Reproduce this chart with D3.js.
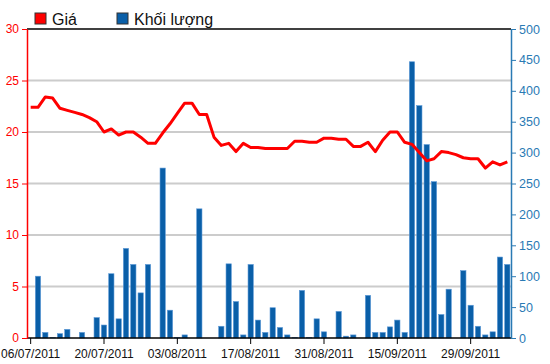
<!DOCTYPE html>
<html>
<head>
<meta charset="utf-8">
<script src="https://cdn.jsdelivr.net/npm/d3@7"></script>
<style>
  body { margin: 0; background: #fff; }
  svg { display: block; font-family: "Liberation Sans", Arial, sans-serif; }
</style>
</head>
<body>
<div id="chart"></div>
<script>
// trading days, 06/07/2011 - 06/10/2011
const dates = [
  "06/07/2011","07/07/2011","08/07/2011","11/07/2011","12/07/2011","13/07/2011","14/07/2011","15/07/2011",
  "18/07/2011","19/07/2011","20/07/2011","21/07/2011","22/07/2011","25/07/2011","26/07/2011","27/07/2011",
  "28/07/2011","29/07/2011","01/08/2011","02/08/2011","03/08/2011","04/08/2011","05/08/2011","08/08/2011",
  "09/08/2011","10/08/2011","11/08/2011","12/08/2011","15/08/2011","16/08/2011","17/08/2011","18/08/2011",
  "19/08/2011","22/08/2011","23/08/2011","24/08/2011","25/08/2011","26/08/2011","29/08/2011","30/08/2011",
  "31/08/2011","01/09/2011","05/09/2011","06/09/2011","07/09/2011","08/09/2011","09/09/2011","12/09/2011",
  "13/09/2011","14/09/2011","15/09/2011","16/09/2011","19/09/2011","20/09/2011","21/09/2011","22/09/2011",
  "23/09/2011","26/09/2011","27/09/2011","28/09/2011","29/09/2011","30/09/2011","03/10/2011","04/10/2011",
  "05/10/2011","06/10/2011"
];

const price = [
  22.4, 22.4, 23.4, 23.3, 22.3, 22.1, 21.9, 21.7, 21.4, 21.0,
  20.0, 20.3, 19.7, 20.0, 20.0, 19.5, 18.9, 18.9, 19.9, 20.8,
  21.8, 22.8, 22.8, 21.7, 21.7, 19.5, 18.7, 18.9, 18.1, 18.9,
  18.5, 18.5, 18.4, 18.4, 18.4, 18.4, 19.1, 19.1, 19.0, 19.0,
  19.4, 19.4, 19.3, 19.3, 18.6, 18.6, 19.0, 18.1, 19.2, 20.0,
  20.0, 19.0, 18.8, 18.0, 17.2, 17.4, 18.1, 18.0, 17.8, 17.5,
  17.4, 17.4, 16.5, 17.1, 16.8, 17.1
];

const volume = [
  0, 100, 9, 1, 7, 14, 0, 9, 0, 33,
  21, 104, 31, 145, 119, 73, 119, 0, 275, 45,
  1, 5, 0, 209, 0, 0, 19, 120, 59, 5,
  119, 29, 9, 49, 17, 5, 1, 77, 1, 31,
  10, 0, 43, 3, 5, 0, 69, 9, 9, 18,
  29, 9, 447, 376, 313, 253, 38, 79, 0, 109,
  53, 19, 5, 10, 131, 119
];

const priceTicks = [0, 5, 10, 15, 20, 25, 30];
const volumeTicks = [0, 50, 100, 150, 200, 250, 300, 350, 400, 450, 500];
const dateTicks = ["06/07/2011","20/07/2011","03/08/2011","17/08/2011","31/08/2011","15/09/2011","29/09/2011"];

const legendItems = [
  { name: "Giá", color: "#ff0000" },
  { name: "Khối lượng", color: "#0a5fa8" }
];

const width = 550, height = 364;
const margin = { top: 29, right: 39, bottom: 26, left: 27 };

const svg = d3.select("#chart")
  .append("svg")
    .attr("width", width)
    .attr("height", height);

const x = d3.scaleBand()
  .domain(dates)
  .range([margin.left, width - margin.right])
  .paddingInner(0.28)
  .paddingOuter(0.14);

const yPrice = d3.scaleLinear()
  .domain([0, 30])
  .range([height - margin.bottom, margin.top]);

const yVol = d3.scaleLinear()
  .domain([0, 500])
  .range([height - margin.bottom, margin.top]);

// grid lines
svg.append("g")
  .selectAll("line")
  .data(priceTicks.filter(d => d > 0 && d < 30))
  .enter()
  .append("line")
    .attr("x1", margin.left)
    .attr("x2", width - margin.right)
    .attr("y1", d => yPrice(d))
    .attr("y2", d => yPrice(d))
    .attr("stroke", "#cccccc")
    .attr("stroke-width", 2);

// top border
svg.append("line")
  .attr("x1", margin.left)
  .attr("x2", width - margin.right)
  .attr("y1", yPrice(30))
  .attr("y2", yPrice(30))
  .attr("stroke", "#000")
  .attr("stroke-width", 1.5);

// volume bars
svg.append("g")
  .selectAll("rect")
  .data(volume)
  .enter()
  .append("rect")
    .attr("x", (d, i) => x(dates[i]))
    .attr("y", d => yVol(d))
    .attr("width", x.bandwidth())
    .attr("height", d => yVol(0) - yVol(d))
    .attr("fill", "#0a5fa8")
    .attr("stroke", "#5e9ad8")
    .attr("stroke-width", 0.6);

// price line
const line = d3.line()
  .x((d, i) => x(dates[i]) + x.bandwidth() / 2)
  .y(d => yPrice(d));

svg.append("path")
  .datum(price)
  .attr("d", line)
  .attr("fill", "none")
  .attr("stroke", "#ff0000")
  .attr("stroke-width", 3)
  .attr("stroke-linejoin", "round");

// x axis
const xAxis = svg.append("g")
  .attr("transform", "translate(0," + yPrice(0) + ")")
  .call(d3.axisBottom(x).tickValues(dateTicks).tickSize(6).tickSizeOuter(0).tickPadding(5));
xAxis.select(".domain").attr("stroke", "#000").attr("stroke-width", 1.5)
  .attr("d", "M" + margin.left + ",0H" + (width - margin.right));
xAxis.selectAll(".tick line").attr("stroke", "#000");
xAxis.selectAll("text").attr("fill", "#111").style("font-size", "12px");

// left axis (price)
const yAxisL = svg.append("g")
  .attr("transform", "translate(" + margin.left + ",0)")
  .call(d3.axisLeft(yPrice).tickValues(priceTicks).tickSize(5).tickSizeOuter(0).tickPadding(3));
yAxisL.select(".domain").attr("stroke", "#ff0000").attr("stroke-width", 1.5);
yAxisL.selectAll(".tick line").attr("stroke", "#ff0000");
yAxisL.selectAll("text").attr("fill", "#ff0000").style("font-size", "12px");

// right axis (volume)
const yAxisR = svg.append("g")
  .attr("transform", "translate(" + (width - margin.right) + ",0)")
  .call(d3.axisRight(yVol).tickValues(volumeTicks).tickSize(5).tickSizeOuter(0).tickPadding(3));
yAxisR.select(".domain").attr("stroke", "#2a7ab4").attr("stroke-width", 1.5);
yAxisR.selectAll(".tick line").attr("stroke", "#2a7ab4");
yAxisR.selectAll("text").attr("fill", "#2a7ab4").style("font-size", "12.5px");

// legend
const legendX = [35, 117];
const legend = svg.append("g")
  .selectAll("g")
  .data(legendItems)
  .enter()
  .append("g")
    .attr("transform", (d, i) => "translate(" + legendX[i] + ",13)");
legend.append("rect")
  .attr("width", 11)
  .attr("height", 11)
  .attr("fill", d => d.color)
  .attr("stroke", "#333")
  .attr("stroke-width", 1);
legend.append("text")
  .attr("x", 17)
  .attr("y", 12)
  .style("font-size", "16px")
  .attr("fill", "#111")
  .text(d => d.name);
</script>
</body>
</html>
